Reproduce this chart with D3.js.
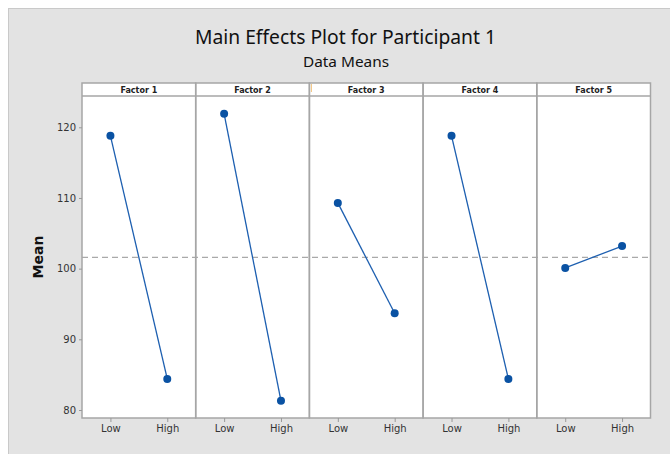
<!DOCTYPE html>
<html><head><meta charset="utf-8">
<script src="https://cdn.jsdelivr.net/npm/d3@7"></script>
<style>
html,body{margin:0;padding:0;background:#fff;}
svg{display:block;}
</style></head>
<body>
<svg id="chart" width="670" height="454"></svg>
<script>
const factors = ["Factor 1","Factor 2","Factor 3","Factor 4","Factor 5"];
const levels = ["Low","High"];
const lowMeans = [118.8, 121.9, 109.3, 118.8, 100.1];
const highMeans = [84.4, 81.3, 93.7, 84.4, 103.2];
const grandMean = 101.6;
const yTicks = [80, 90, 100, 110, 120];

const svg = d3.select("#chart");
const font = "'Segoe UI', 'DejaVu Sans', sans-serif";
const tfont = "'Noto Sans', 'Open Sans', sans-serif";

// background
svg.append("rect").attr("x",8.5).attr("y",8.5).attr("width",670).attr("height",454)
  .attr("fill","#e3e3e3").attr("stroke","#c9c9c9").attr("stroke-width",1);

const left = 82, right = 650.5, headTop = 83, headBot = 96, bottom = 418;

const x = d3.scaleBand().domain(factors).range([left, right]).paddingInner(0).paddingOuter(0);
const xi = d3.scalePoint().domain(levels).range([0, x.bandwidth()]).padding(0.5);
const y = d3.scaleLinear().domain([80,120]).range([410,127.3]);

// titles
svg.append("text").attr("x",345.5).attr("y",44).attr("text-anchor","middle")
  .attr("font-family",tfont).attr("font-size",19).attr("fill","#111")
  .attr("textLength",301).attr("lengthAdjust","spacingAndGlyphs")
  .text("Main Effects Plot for Participant 1");
svg.append("text").attr("x",346).attr("y",66.5).attr("text-anchor","middle")
  .attr("font-family",tfont).attr("font-size",15).attr("fill","#111")
  .attr("textLength",86).attr("lengthAdjust","spacingAndGlyphs")
  .text("Data Means");

// panels
const panels = svg.append("g");
factors.forEach((f,i) => {
  const x0 = x(f);
  panels.append("rect").attr("x",x0).attr("y",headTop).attr("width",x.bandwidth()).attr("height",bottom-headTop)
    .attr("fill","#fff");
});

// mean dashed line
svg.append("line").attr("x1",left).attr("x2",right).attr("y1",y(grandMean)).attr("y2",y(grandMean))
  .attr("stroke","#a9a9a9").attr("stroke-width",1.3).attr("stroke-dasharray","6,4");

// borders
const bc = "#a6a6a6";
factors.forEach((f,i) => {
  const x0 = x(f);
  svg.append("rect").attr("x",x0).attr("y",headTop).attr("width",x.bandwidth()).attr("height",bottom-headTop)
    .attr("fill","none").attr("stroke",bc).attr("stroke-width",1.5);
  svg.append("line").attr("x1",x0).attr("x2",x0+x.bandwidth()).attr("y1",headBot).attr("y2",headBot)
    .attr("stroke",bc).attr("stroke-width",1.5);
  svg.append("text").attr("x",x0+x.bandwidth()/2).attr("y",92.5).attr("text-anchor","middle")
    .attr("font-family",font).attr("font-size",8).attr("font-weight","bold").attr("fill","#222")
    .text(f);
});
// small orange mark in the header
svg.append("line").attr("x1",x(factors[2])+2).attr("x2",x(factors[2])+2).attr("y1",84).attr("y2",92)
  .attr("stroke","#f2c27a").attr("stroke-width",1);

// data lines and points
const line = d3.line().x(d=>d[0]).y(d=>y(d[1]));
factors.forEach((f,i) => {
  const pts = [[x(f)+xi("Low"), lowMeans[i]], [x(f)+xi("High"), highMeans[i]]];
  svg.append("path").attr("d",line(pts)).attr("fill","none").attr("stroke","#1d5fb0").attr("stroke-width",1.3);
  svg.selectAll(null).data(pts).enter().append("circle")
    .attr("cx",d=>d[0]).attr("cy",d=>y(d[1])).attr("r",4).attr("fill","#0a52a3");
});

// y axis
const yAxis = svg.append("g").attr("transform",`translate(${left},0)`)
  .call(d3.axisLeft(y).tickValues(yTicks).tickSize(3).tickPadding(3));
yAxis.select(".domain").remove();
yAxis.selectAll(".tick line").attr("stroke","#999");
yAxis.selectAll("text").attr("font-family",font).attr("font-size",10).attr("fill","#333");

// x axes
factors.forEach((f,i) => {
  const g = svg.append("g").attr("transform",`translate(${x(f)},${bottom})`)
    .call(d3.axisBottom(xi).tickSize(4).tickPadding(3));
  g.select(".domain").remove();
  g.selectAll(".tick line").attr("stroke","#999");
  g.selectAll("text").attr("font-family",font).attr("font-size",10).attr("fill","#333");
});

// y label
svg.append("text").attr("transform","translate(43,257) rotate(-90)").attr("text-anchor","middle")
  .attr("font-family",font).attr("font-size",14).attr("font-weight","bold").attr("fill","#111")
  .text("Mean");
</script>
</body></html>
